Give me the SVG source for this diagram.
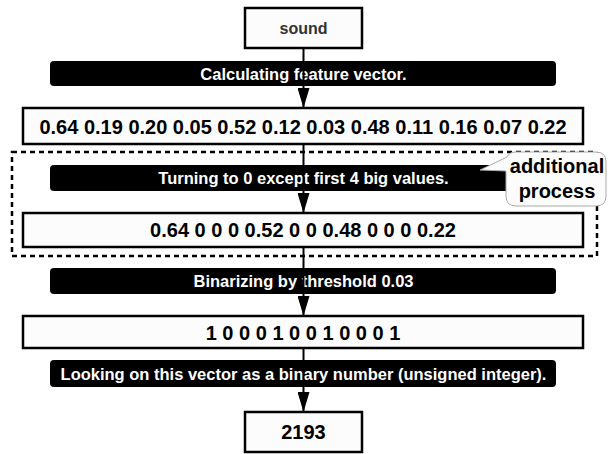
<svg xmlns="http://www.w3.org/2000/svg" width="610" height="454" viewBox="0 0 610 454">
  <style>
    .box { fill: #fcfcfc; stroke: #000; stroke-width: 2.5; }
    .bar { fill: #000; }
    .bartxt { font-family: "Liberation Sans", Arial, sans-serif; font-weight: bold; font-size: 16.5px; fill: #fff; text-anchor: middle; }
    .boxtxt { font-family: "Liberation Sans", Arial, sans-serif; font-weight: bold; font-size: 20px; fill: #000; text-anchor: middle; }
    .group { fill: none; stroke: #000; stroke-width: 2.5; stroke-dasharray: 5 4; }
    .link { fill: none; stroke: #000; stroke-width: 2; }
    .bubble { fill: #fcfcfc; stroke: #aaa; stroke-width: 1; }
  </style>
  <defs>
    <marker id="arrow" markerWidth="20" markerHeight="12" refX="20" refY="6" orient="auto" markerUnits="userSpaceOnUse" viewBox="0 0 20 12">
      <path d="M0,0 L20,6 L0,12 Z" fill="#000"/>
    </marker>
  </defs>

  <rect width="610" height="454" fill="#fff"/>

  <!-- optional processing block -->
  <g id="additional-block">
    <rect class="group" x="12" y="152" width="585" height="104"/>
  </g>

  <g id="sound">
    <rect class="box" x="245" y="8" width="117" height="40"/>
    <text x="303.5" y="34" class="boxtxt" style="font-size:16px;fill:#333">sound</text>
  </g>

  <g id="step-feature">
    <rect class="bar" x="50" y="61" width="506" height="25" rx="4"/>
    <text x="303.5" y="79.5" class="bartxt">Calculating feature vector.</text>
  </g>

  <g id="feature-vector">
    <rect class="box" x="23" y="108" width="560" height="36"/>
    <text x="303" y="133.5" class="boxtxt">0.64 0.19 0.20 0.05 0.52 0.12 0.03 0.48 0.11 0.16 0.07 0.22</text>
  </g>

  <g id="step-top4">
    <rect class="bar" x="50" y="165" width="506" height="26" rx="4"/>
    <text x="303.5" y="184" class="bartxt">Turning to 0 except first 4 big values.</text>
  </g>

  <g id="top4-vector">
    <rect class="box" x="23" y="213" width="560" height="34"/>
    <text x="303" y="237" class="boxtxt">0.64 0 0 0 0.52 0 0 0.48 0 0 0 0.22</text>
  </g>

  <g id="step-binarize">
    <rect class="bar" x="50" y="268" width="506" height="26" rx="4"/>
    <text x="303.5" y="287" class="bartxt">Binarizing by threshold 0.03</text>
  </g>

  <g id="binary-vector">
    <rect class="box" x="23" y="316" width="560" height="32"/>
    <text x="303" y="339.5" class="boxtxt">1 0 0 0 1 0 0 1 0 0 0 1</text>
  </g>

  <g id="step-integer">
    <rect class="bar" x="50" y="360" width="506" height="27" rx="4"/>
    <text x="303.5" y="379.5" class="bartxt">Looking on this vector as a binary number (unsigned integer).</text>
  </g>

  <g id="result">
    <rect class="box" x="245" y="412" width="117" height="40"/>
    <text x="303.5" y="439" class="boxtxt">2193</text>
  </g>

  <!-- callout labelling the optional block -->
  <g id="callout">
    <path class="bubble" d="M516,152 H596 Q606,152 606,162 V196 Q606,206 596,206 H516 Q506,206 506,196 V171 L480,170 L507,157 Q509,152 516,152 Z"/>
    <text x="557" y="173" class="boxtxt">additional</text>
    <text x="557" y="198" class="boxtxt">process</text>
  </g>

  <g id="connectors">
    <line class="link" x1="303.5" y1="48" x2="303.5" y2="108" marker-end="url(#arrow)"/>
    <line class="link" x1="303.5" y1="144" x2="303.5" y2="213" marker-end="url(#arrow)"/>
    <line class="link" x1="303.5" y1="247" x2="303.5" y2="316" marker-end="url(#arrow)"/>
    <line class="link" x1="303.5" y1="348" x2="303.5" y2="412" marker-end="url(#arrow)"/>
  </g>
</svg>
